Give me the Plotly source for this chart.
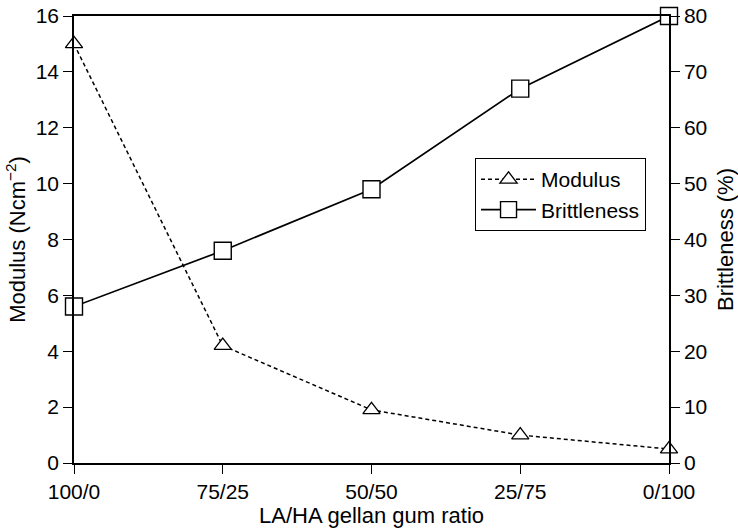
import plotly.graph_objects as go

ratios = ["100/0", "75/25", "50/50", "25/75", "0/100"]
modulus = [15.0, 4.2, 1.9, 1.0, 0.5]
brittleness = [28, 38, 49, 67, 80]

font = dict(family="Liberation Sans, Arial, sans-serif", size=21, color="black")

fig = go.Figure()
fig.add_trace(go.Scatter(
    x=ratios, y=modulus, name="Modulus", mode="lines+markers",
    line=dict(color="black", width=1.5, dash="4px,3px"),
    marker=dict(symbol="triangle-up", size=15, color="white", line=dict(color="black", width=1.3)),
    yaxis="y", cliponaxis=False,
))
fig.add_trace(go.Scatter(
    x=ratios, y=brittleness, name="Brittleness", mode="lines+markers",
    line=dict(color="black", width=1.7),
    marker=dict(symbol="square", size=17, color="white", line=dict(color="black", width=1.4)),
    yaxis="y2", cliponaxis=False,
))

fig.update_layout(
    width=738, height=530,
    margin=dict(l=74, r=69, t=16, b=67, autoexpand=False),
    paper_bgcolor="white", plot_bgcolor="white",
    font=font,
    showlegend=True,
    legend=dict(x=0.674, y=0.682, xanchor="left", yanchor="top",
                bordercolor="black", borderwidth=1, bgcolor="white",
                font=dict(size=21), tracegroupgap=0, itemwidth=55),
    xaxis=dict(type="category", range=[0, 4], showline=True, linecolor="black", linewidth=1.5,
               mirror=True, ticks="outside", ticklen=9, tickcolor="black", tickwidth=1.3,
               showgrid=False, zeroline=False, automargin=False,
               title=dict(text="LA/HA gellan gum ratio", standoff=5, font=dict(size=22))),
    yaxis=dict(range=[0, 16], dtick=2, showline=True, linecolor="black", linewidth=1.5,
               ticks="outside", ticklen=9, tickcolor="black", tickwidth=1.3, showgrid=False,
               zeroline=False, automargin=False,
               title=dict(text="Modulus (Ncm<sup>−2</sup>)", standoff=4, font=dict(size=22))),
    yaxis2=dict(range=[0, 80], dtick=10, overlaying="y", side="right", showline=True,
                linecolor="black", linewidth=1.5, ticks="outside", ticklen=9, tickcolor="black",
                tickwidth=1.3, showgrid=False, zeroline=False, automargin=False,
                title=dict(text="Brittleness (%)", standoff=12, font=dict(size=22))),
)

fig.write_html("out.html", config={"displayModeBar": False},
               post_script="document.body.style.margin='0';document.body.style.padding='0';")
